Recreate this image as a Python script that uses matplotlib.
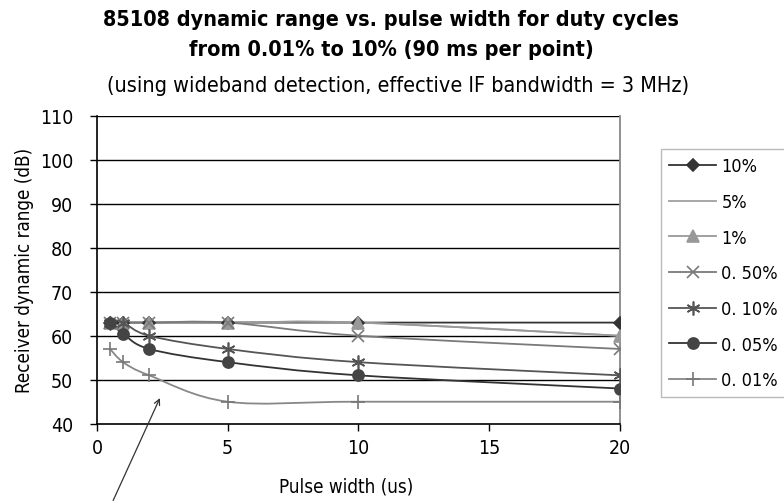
import numpy as np
import matplotlib.pyplot as plt
from matplotlib.path import Path
from matplotlib.patches import PathPatch
from matplotlib.lines import Line2D

plt.rcParams['font.family'] = ['DejaVu Sans']
plt.rcParams['font.stretch'] = 'condensed'

pulse_width = [0.5, 1, 2, 5, 10, 20]
series_names = ['10%', '5%', '1%', '0. 50%', '0. 10%', '0. 05%', '0. 01%']
dr_10 = [63, 63, 63, 63, 63, 63]
dr_5 = [63, 63, 63, 63, 63, 60]
dr_1 = [63, 63, 63, 63, 63, 60]
dr_050 = [63, 63, 63, 63, 60, 57]
dr_010 = [63, 63, 60, 57, 54, 51]
dr_005 = [63, 60.5, 57, 54, 51, 48]
dr_001 = [57, 54, 51, 45, 45, 45]

styles = [
    dict(color='#333333', marker='D', ms=6, mfc='#333333', mec='#333333'),
    dict(color='#a0a0a0', marker=None),
    dict(color='#999999', marker='^', ms=8, mfc='#999999', mec='#999999'),
    dict(color='#7a7a7a', marker='x', ms=9, mfc='none', mec='#7a7a7a'),
    dict(color='#555555', marker=(6, 2, 0), ms=10, mfc='none', mec='#555555'),
    dict(color='#333333', marker='o', ms=8, mfc='#444444', mec='#444444'),
    dict(color='#888888', marker='+', ms=10, mfc='none', mec='#777777'),
]


def smooth_path(x, y):
    # Excel-style smoothed line: cubic bezier through every point
    x = np.asarray(x, float)
    y = np.asarray(y, float)
    n = len(x)
    verts = [(x[0], y[0])]
    codes = [Path.MOVETO]
    for i in range(n - 1):
        i0 = max(i - 1, 0)
        i3 = min(i + 2, n - 1)
        c1 = (x[i] + (x[i + 1] - x[i0]) / 6, y[i] + (y[i + 1] - y[i0]) / 6)
        c2 = (x[i + 1] - (x[i3] - x[i]) / 6, y[i + 1] - (y[i3] - y[i]) / 6)
        verts += [c1, c2, (x[i + 1], y[i + 1])]
        codes += [Path.CURVE4] * 3
    return Path(verts, codes)


fig = plt.figure(figsize=(7.84, 5.02), dpi=100)
ax = fig.add_axes([0.1237, 0.154, 0.667, 0.613])

all_series = [dr_10, dr_5, dr_1, dr_050, dr_010, dr_005, dr_001]
handles = []
for name, vals, st in zip(series_names, all_series, styles):
    ax.add_patch(PathPatch(smooth_path(pulse_width, vals), fill=False,
                           edgecolor=st['color'], lw=1.3, zorder=3))
    if st['marker'] is not None:
        ax.plot(pulse_width, vals, ls='none', marker=st['marker'], ms=st['ms'],
                mfc=st['mfc'], mec=st['mec'], mew=1.2, zorder=4)
        h = Line2D([], [], color=st['color'], lw=1.3, marker=st['marker'],
                   ms=st['ms'], mfc=st['mfc'], mec=st['mec'], mew=1.2)
    else:
        h = Line2D([], [], color=st['color'], lw=1.3)
    handles.append(h)

ax.set_xlim(0, 20)
ax.set_ylim(40, 110)
ax.set_xticks([0, 5, 10, 15, 20])
ax.set_yticks(np.arange(40, 111, 10))
for yv in np.arange(50, 111, 10):
    ax.axhline(yv, color='black', lw=1, zorder=1)

ax.spines['top'].set_visible(False)
ax.spines['right'].set_color('#888888')
ax.spines['right'].set_linewidth(1.3)
ax.spines['left'].set_linewidth(1.2)
ax.spines['bottom'].set_linewidth(1.2)
ax.tick_params(axis='both', direction='out', length=5, width=1, labelsize=14)
ax.tick_params(axis='y', pad=12)
ax.tick_params(axis='x', pad=5)

ax.set_xlabel('Pulse width (us)', fontsize=13.5, labelpad=12)
ax.xaxis.set_label_coords(0.476, -0.17)
ax.set_ylabel('Receiver dynamic range (dB)', fontsize=13.5)
ax.yaxis.set_label_coords(-0.12, 0.5)

fig.text(0.499, 0.96, '85108 dynamic range vs. pulse width for duty cycles',
         ha='center', va='center', fontsize=15.5, fontweight='bold')
fig.text(0.499, 0.90, 'from 0.01% to 10% (90 ms per point)',
         ha='center', va='center', fontsize=15.5, fontweight='bold')
fig.text(0.508, 0.829, '(using wideband detection, effective IF bandwidth = 3 MHz)',
         ha='center', va='center', fontsize=15.5)

leg = fig.legend(handles, series_names, loc='upper left',
                 bbox_to_anchor=(661 / 784, 1 - 150 / 502),
                 frameon=True, fancybox=False, fontsize=13,
                 handlelength=2.6, handletextpad=0.3, labelspacing=0.98,
                 borderpad=0.45, borderaxespad=0)
leg.get_frame().set_edgecolor('#aaaaaa')
leg.get_frame().set_linewidth(1)

ax.annotate('', xy=(2.45, 46.4), xycoords='data',
            xytext=(112, -2), textcoords='figure pixels',
            arrowprops=dict(arrowstyle='->', color='#333333', lw=0.9),
            annotation_clip=False)

fig.savefig('out.png', dpi=100)
